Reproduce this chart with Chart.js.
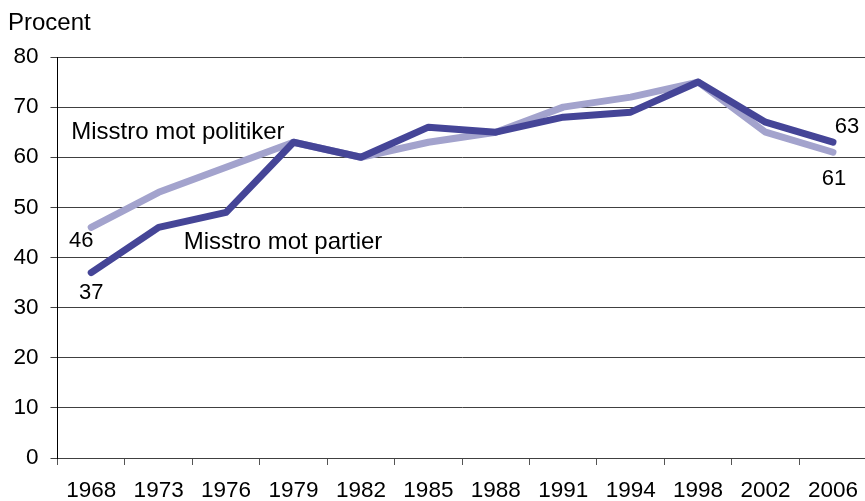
<!DOCTYPE html>
<html>
<head>
<meta charset="utf-8">
<script src="https://cdn.jsdelivr.net/npm/chart.js@4/dist/chart.umd.min.js"></script>
<style>
  html, body { margin: 0; padding: 0; background: #fff; overflow: hidden; }
  body { width: 865px; height: 501px; position: relative; }
  #wrap { position: absolute; left: 0; top: 0; width: 870px; height: 501px; }
  #title { position: absolute; left: 8px; top: 8px; font: 24px "Liberation Sans", Arial, sans-serif; color: #000; }
</style>
</head>
<body>
<div id="wrap"><canvas id="chart"></canvas></div>
<div id="title">Procent</div>
<script>
const years = ['1968', '1973', '1976', '1979', '1982', '1985', '1988', '1991', '1994', '1998', '2002', '2006']
const partier = [37, 46, 49, 63, 60, 66, 65, 68, 69, 75, 67, 63]
const politiker = [46, 53, 58, 63, 60, 63, 65, 70, 72, 75, 65, 61]
const yTicks = [0, 10, 20, 30, 40, 50, 60, 70, 80]

// text labels placed at data positions (index, value) with pixel nudges
const notes = [
    { text: 'Misstro mot politiker', idx: 0, val: 65, dx: -20, dy: 0, align: 'left', size: 24 },
    { text: 'Misstro mot partier', idx: 1, val: 43, dx: 25, dy: 0, align: 'left', size: 24 },
    { text: '46', idx: 0, val: 46, dx: -10, dy: 14, align: 'center', size: 22 },
    { text: '37', idx: 0, val: 37, dx: 0, dy: 20, align: 'center', size: 22 },
    { text: '63', idx: 11, val: 63, dx: 14, dy: -15, align: 'center', size: 22 },
    { text: '61', idx: 11, val: 61, dx: 1, dy: 27, align: 'center', size: 22 }
]

const notePlugin = {
    id: 'notes',
    afterDatasetsDraw(chart) {
        const { ctx, scales } = chart
        ctx.save()
        ctx.fillStyle = '#000'
        ctx.textBaseline = 'middle'
        for (const n of notes) {
            ctx.font = n.size + 'px "Liberation Sans", Arial, sans-serif'
            ctx.textAlign = n.align
            const x = scales.x.getPixelForValue(n.idx) + n.dx
            const y = scales.y.getPixelForValue(n.val) + n.dy
            ctx.fillText(n.text, x, y)
        }
        ctx.restore()
    }
}

const font = { family: '"Liberation Sans", Arial, sans-serif', size: 22.5 }

new Chart(document.getElementById('chart'), {
    type: 'line',
    data: {
        labels: years,
        datasets: [
            {
                label: 'Misstro mot partier',
                data: partier,
                borderColor: '#454597',
                borderWidth: 7,
                pointRadius: 0,
                borderCapStyle: 'round',
                borderJoinStyle: 'round',
                tension: 0,
                order: 0
            },
            {
                label: 'Misstro mot politiker',
                data: politiker,
                borderColor: '#a3a3cd',
                borderWidth: 7,
                pointRadius: 0,
                borderCapStyle: 'round',
                borderJoinStyle: 'round',
                tension: 0,
                order: 1
            }
        ]
    },
    options: {
        responsive: true,
        maintainAspectRatio: false,
        animation: false,
        layout: { padding: { top: 57, right: 0, left: 0, bottom: 0 } },
        plugins: { legend: { display: false }, tooltip: { enabled: false } },
        scales: {
            x: {
                offset: true,
                grid: { offset: true, drawOnChartArea: false, drawTicks: true, tickLength: 7, color: '#555' },
                border: { display: false },
                ticks: { color: '#000', font, padding: 12, maxRotation: 0, autoSkip: false },
                afterFit: s => { s.height = 43 }
            },
            y: {
                min: 0,
                max: 80,
                afterBuildTicks: s => { s.ticks = yTicks.map(v => ({ value: v })) },
                grid: { color: '#404040', lineWidth: 1, tickLength: 7 },
                border: { display: true, color: '#000', width: 1 },
                ticks: { color: '#000', font, padding: 12 },
                afterFit: s => { s.width = 57.5 }
            }
        }
    },
    plugins: [notePlugin]
})
</script>
</body>
</html>
